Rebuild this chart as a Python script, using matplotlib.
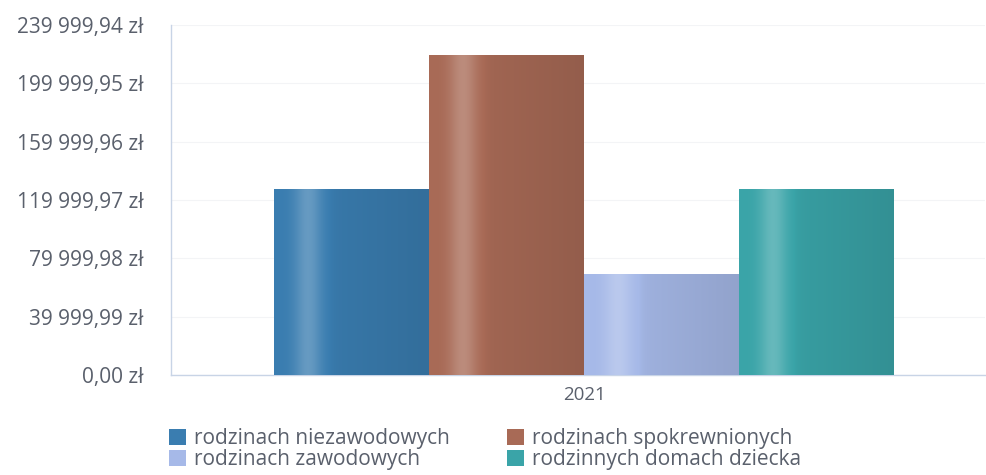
import numpy as np
import matplotlib
matplotlib.use("Agg")
import matplotlib.pyplot as plt
from matplotlib.patches import Patch
from matplotlib.colors import to_rgb
from matplotlib.ticker import FixedLocator, FuncFormatter

# ---- data ----
year_label = "2021"
series = ["rodzinach niezawodowych", "rodzinach spokrewnionych",
          "rodzinach zawodowych", "rodzinnych domach dziecka"]
values = [127500.0, 219400.0, 68600.0, 126900.0]
colors = ["#3a7db0", "#a86a56", "#a6b9e8", "#3aa4a8"]
tick_step = 39999.99
n_ticks = 7

plt.rcParams['font.family'] = ['Open Sans', 'DejaVu Sans']
text_color = "#5a606c"
spine_color = "#c8d4e6"

fig = plt.figure(figsize=(9.87, 4.75), dpi=100)
ax = fig.add_axes([171/987, 1-375/475, (985-171)/987, (375-25)/475])

ymax = tick_step * (n_ticks - 1)
w = 1.0
offsets = (np.arange(len(values)) - (len(values)-1)/2) * w

bars = ax.bar(offsets, values, width=w, color=colors, linewidth=0, zorder=2)

# cylindrical shading over each bar
prof_x = np.linspace(0, 1, 200)
shade = 0.40*np.exp(-((prof_x-0.22)/0.09)**2) - 0.12*prof_x
for b, c in zip(bars, colors):
    base = np.array(to_rgb(c))
    rows = []
    for s in shade:
        if s >= 0:
            rows.append(base + (1-base)*s*0.6)
        else:
            rows.append(base*(1+s))
    img = np.clip(np.array(rows), 0, 1)[None, :, :]
    x0, bw, h = b.get_x(), b.get_width(), b.get_height()
    ax.imshow(img, extent=[x0, x0+bw, 0, h], aspect='auto', zorder=3,
              interpolation='bilinear')
ax.set_xlim(-413.5/155, 400.5/155)
ax.set_ylim(0, ymax)

ticks = [tick_step*i for i in range(n_ticks)]
ax.yaxis.set_major_locator(FixedLocator(ticks))

def fmt(v, pos):
    s = f"{v:,.2f}".replace(",", " ").replace(".", ",")
    return s + " zł"
ax.yaxis.set_major_formatter(FuncFormatter(fmt))
ax.set_xticks([0])
ax.set_xticklabels([year_label])
ax.tick_params(axis='y', length=0, pad=20, labelsize=15, labelcolor=text_color)
ax.tick_params(axis='x', length=0, pad=8, labelsize=13.5, labelcolor=text_color)
ax.grid(axis='y', color="#f3f4f6", linewidth=0.8, zorder=0)
ax.set_axisbelow(True)
for sp in ['top', 'right']:
    ax.spines[sp].set_visible(False)
for sp in ['left', 'bottom']:
    ax.spines[sp].set_color(spine_color)
    ax.spines[sp].set_linewidth(1.0)

order = [0, 2, 1, 3]
handles = [Patch(facecolor=colors[i], edgecolor='none') for i in order]
labels = [series[i] for i in order]
leg = fig.legend(handles, labels, ncol=2, loc='upper left',
                 bbox_to_anchor=(169/987, 1-428/475), frameon=False,
                 fontsize=15, labelcolor=text_color, handlelength=0.8,
                 handleheight=0.8, handletextpad=0.4, columnspacing=2.75,
                 labelspacing=0.0, borderpad=0.0, borderaxespad=0.0)

fig.savefig("out.png", dpi=100, facecolor='white')
